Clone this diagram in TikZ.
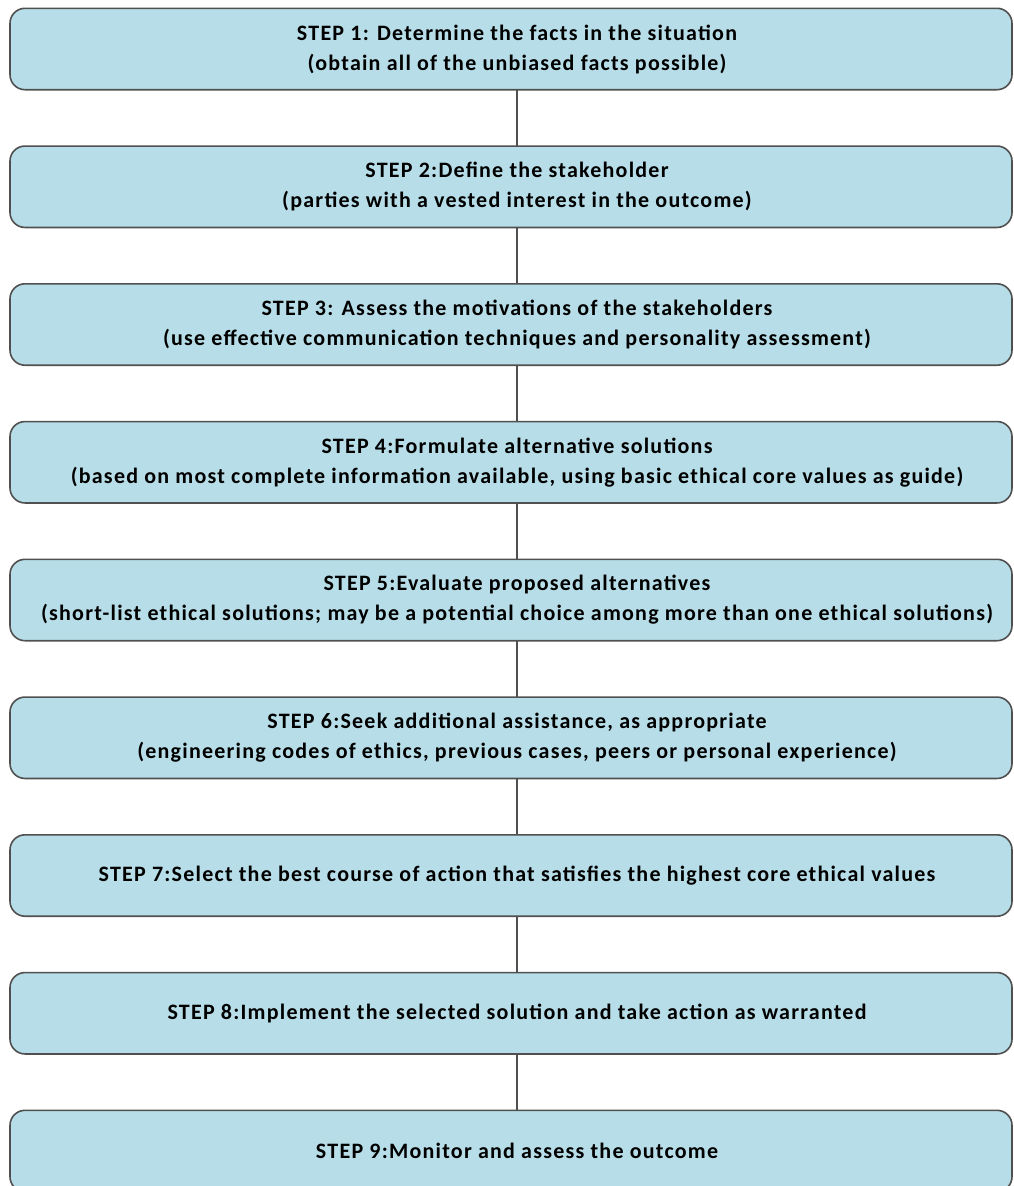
\documentclass[tikz,border=0pt]{standalone}
\usepackage{fontspec}
\setmainfont{Carlito}[LetterSpace=5.6]
\usetikzlibrary{backgrounds}
\definecolor{boxfill}{HTML}{B7DEE8}
\definecolor{boxline}{HTML}{505050}
\begin{document}
\begin{tikzpicture}[x=1pt,y=-1pt,
	steptext/.style={minimum height=81pt,inner sep=0pt,align=center,font=\fontsize{22}{30}\selectfont\bfseries},
	stepbox/.style={draw=boxline,fill=boxfill,line width=1.6pt,rounded corners=15pt},
	link/.style={draw=boxline,line width=1.6pt}]
	\useasboundingbox (0,0) rectangle (1013,1186);
	\coordinate (lft) at (10,0);
	\coordinate (rgt) at (1012,0);
	\node [steptext] (s1) at (517,49) {STEP 1: Determine the facts in the situation\\(obtain all of the unbiased facts possible)};
	\node [steptext] (s2) at (517,186.75) {STEP 2:Define the stakeholder\\(parties with a vested interest in the outcome)};
	\node [steptext] (s3) at (517,324.5) {STEP 3: Assess the motivations of the stakeholders\\(use effective communication techniques and personality assessment)};
	\node [steptext] (s4) at (517,462.25) {STEP 4:Formulate alternative solutions\\(based on most complete information available, using basic ethical core values as guide)};
	\node [steptext] (s5) at (517,600) {STEP 5:Evaluate proposed alternatives\\(short-list ethical solutions; may be a potential choice among more than one ethical solutions)};
	\node [steptext] (s6) at (517,737.75) {STEP 6:Seek additional assistance, as appropriate\\(engineering codes of ethics, previous cases, peers or personal experience)};
	\node [steptext] (s7) at (517,875.5) {STEP 7:Select the best course of action that satisfies the highest core ethical values};
	\node [steptext] (s8) at (517,1013.25) {STEP 8:Implement the selected solution and take action as warranted};
	\node [steptext] (s9) at (517,1151) {STEP 9:Monitor and assess the outcome};
	\begin{scope}[on background layer]
		\foreach \i in {1,...,9}
			\draw [stepbox] (s\i.north -| lft) rectangle (s\i.south -| rgt);
	\end{scope}
	\foreach \i/\j in {1/2,2/3,3/4,4/5,5/6,6/7,7/8,8/9}
		\draw [link] (s\i) -- (s\j);
\end{tikzpicture}
\end{document}
